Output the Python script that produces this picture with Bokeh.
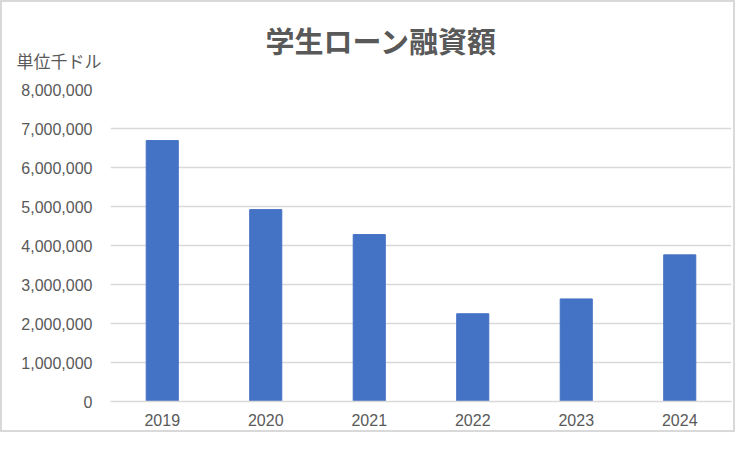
from bokeh.plotting import figure
from bokeh.models import FixedTicker, NumeralTickFormatter, Title, FactorRange, Range1d
from bokeh.embed import file_html
from bokeh.resources import INLINE

years = ["2019", "2020", "2021", "2022", "2023", "2024"]
loans = [6690000, 4920000, 4280000, 2250000, 2630000, 3760000]
y_ticks = [0, 1000000, 2000000, 3000000, 4000000, 5000000, 6000000, 7000000, 8000000]
title_text = "学生ローン融資額"
unit_text = "単位千ドル"

TEXT = "#595959"
GRID = "#d9d9d9"

p = figure(x_range=FactorRange(*years, range_padding=0), y_range=Range1d(0, 8000000),
           width=735, height=432, output_backend="svg", toolbar_location=None,
           min_border_left=108, min_border_right=6, min_border_top=87, min_border_bottom=33)

p.vbar(x=years, top=loans, width=0.31, color="#4472C4")

p.title.text = title_text
p.title.align = "left"
p.title.offset = 155
p.title.standoff = -62
p.title.text_font = "Noto Sans CJK JP"
p.title.text_font_size = "29px"
p.title.text_font_style = "bold"
p.title.text_color = TEXT

unit = Title(text=unit_text, align="left", offset=-94, standoff=33,
             text_font="Noto Sans CJK JP", text_font_size="17px",
             text_font_style="normal", text_color=TEXT)
p.add_layout(unit, "above")

p.yaxis.ticker = FixedTicker(ticks=y_ticks)
p.yaxis.formatter = NumeralTickFormatter(format="0,0")
for ax in (p.xaxis, p.yaxis):
    ax.major_label_text_font = "Liberation Sans"
    ax.major_label_text_font_size = "16px"
    ax.major_label_text_color = TEXT
    ax.major_tick_line_color = None
    ax.minor_tick_line_color = None
    ax.major_tick_out = 0
    ax.major_tick_in = 0
p.yaxis.axis_line_color = None
p.yaxis.major_label_standoff = 18
p.xaxis.axis_line_color = GRID
p.xaxis.axis_line_width = 1.5
p.xaxis.major_label_standoff = 12

p.xgrid.grid_line_color = None
p.ygrid.grid_line_color = GRID
p.ygrid.grid_line_width = 1.5
p.outline_line_color = None
p.styles = {"border": "2px solid #d9d9d9"}

open("out.html", "w").write(file_html(p, INLINE))
